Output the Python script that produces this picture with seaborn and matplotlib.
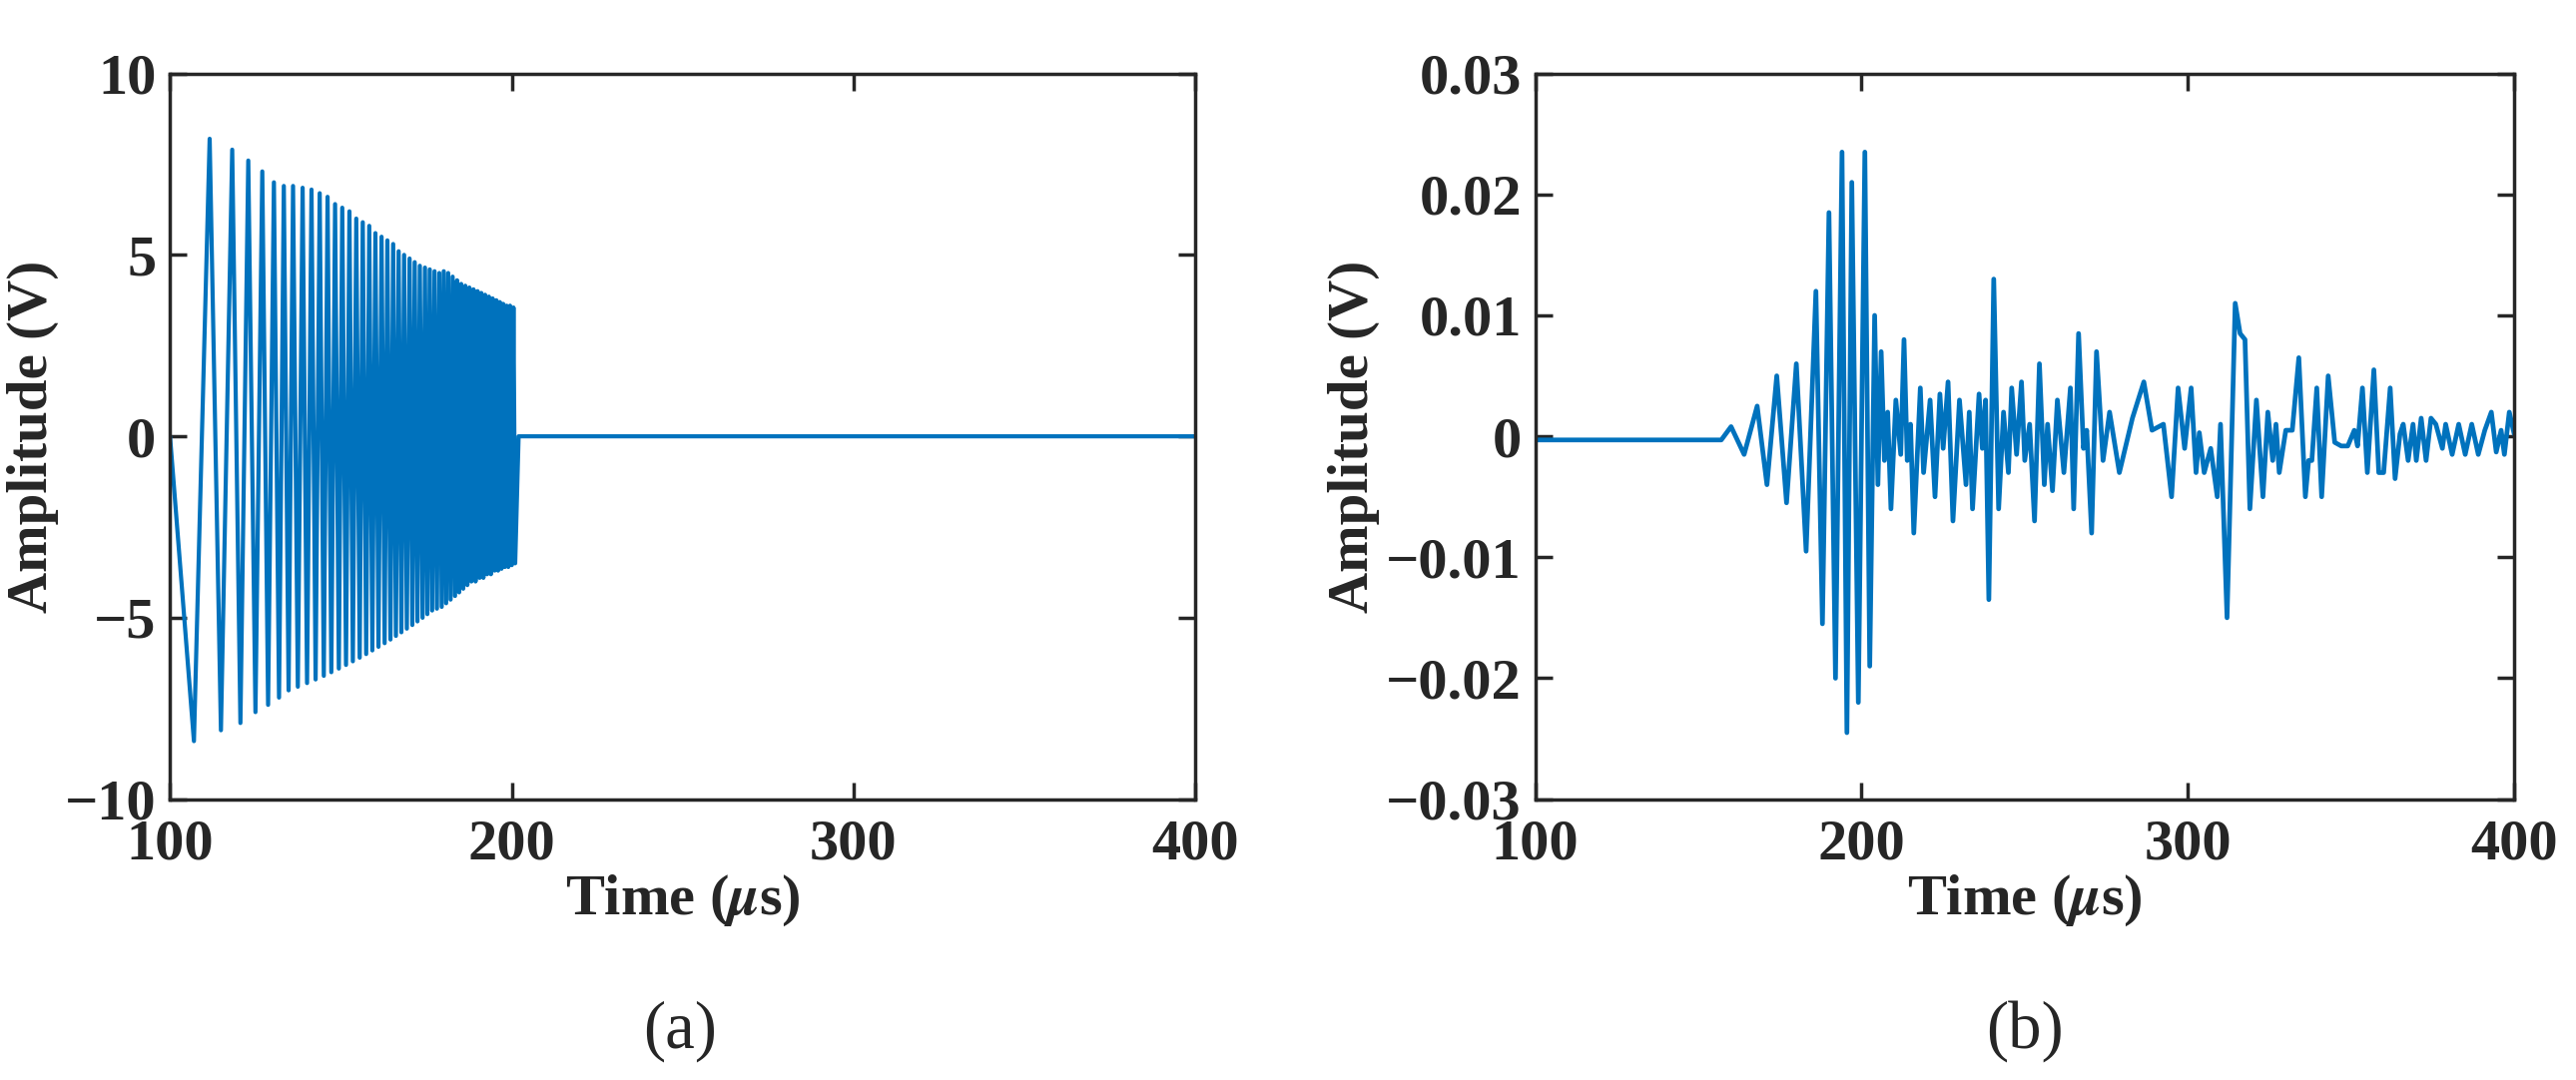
import matplotlib
matplotlib.use("Agg")
import matplotlib.pyplot as plt
import seaborn as sns
import numpy as np
import pandas as pd

# (a) excitation chirp: extrema (time us, amplitude V)
chirp_t = [100, 107.0, 111.6, 114.9, 118.2, 120.6, 122.9, 125.0, 127.0, 128.7, 130.4, 131.9,
           133.3, 134.7, 136.0, 137.4, 138.8, 140.1, 141.4, 142.6, 143.8, 145.0, 146.1, 147.2,
           148.3, 149.4, 150.4, 151.5, 152.5, 153.5, 154.5, 155.5, 156.4, 157.4, 158.3, 159.2,
           160.1, 161.0, 161.9, 162.8, 163.6, 164.5, 165.3, 166.1, 166.9, 167.7, 168.5, 169.3,
           170.1, 170.9, 171.6, 172.4, 173.1, 173.9, 174.6, 175.3, 176.0, 176.7, 177.4, 178.1,
           178.8, 179.5, 180.1, 180.8, 181.4, 182.1, 182.7, 183.4, 184.0, 184.6, 185.2, 185.8,
           186.4, 187.0, 187.6, 188.2, 188.8, 189.4, 190.0, 190.6, 191.1, 191.7, 192.2, 192.8,
           193.3, 193.9, 194.4, 195.0, 195.5, 196.0, 196.5, 197.0, 197.5, 198.0, 198.5, 199.0,
           199.5, 200.0, 200.5, 201.0, 202.0, 400]
chirp_v = [0, -8.4, 8.2, -8.1, 7.9, -7.9, 7.6, -7.6, 7.3, -7.4, 7.0, -7.2,
           6.9, -7.0, 6.9, -6.9, 6.85, -6.8, 6.8, -6.7, 6.7, -6.6, 6.6, -6.5,
           6.4, -6.4, 6.3, -6.3, 6.2, -6.2, 6.0, -6.1, 5.9, -6.0, 5.8, -5.9,
           5.6, -5.8, 5.5, -5.7, 5.4, -5.6, 5.3, -5.5, 5.1, -5.4, 5.0, -5.3,
           4.9, -5.2, 4.8, -5.1, 4.7, -5.0, 4.65, -4.9, 4.6, -4.8, 4.55, -4.75,
           4.5, -4.7, 4.55, -4.6, 4.5, -4.5, 4.4, -4.4, 4.3, -4.3, 4.2, -4.2,
           4.15, -4.1, 4.1, -4.0, 4.05, -4.0, 4.0, -3.9, 3.95, -3.9, 3.9, -3.8,
           3.85, -3.8, 3.8, -3.7, 3.75, -3.7, 3.7, -3.65, 3.65, -3.6, 3.6, -3.6,
           3.6, -3.55, 3.55, -3.5, 0.0, 0.0]

# (b) received signal: extrema (time us, amplitude V)
recv_t = [100, 157, 160, 164, 168, 171, 174, 177, 180, 183, 186, 188, 190, 192, 194, 195.5,
          197, 199, 201, 202.5, 204, 205, 206, 207, 208, 209, 210.5, 212, 213, 214, 215, 216,
          218, 219, 221, 222.5, 224, 225, 226.5, 228, 230, 232, 233, 234, 236, 237, 238, 239,
          240.5, 242, 243.5, 245, 246, 247.5, 249, 250, 251.5, 253, 254.5, 256, 257, 258.5,
          260, 262, 264, 265, 266.5, 268, 269, 270.5, 272, 274, 276, 279, 283, 286.5, 289,
          292.5, 295, 297, 299, 301, 302.5, 303.5, 305, 307, 309, 310, 312, 314.5, 316, 317.5,
          319, 321, 323, 324.5, 326, 327, 328, 330, 332, 334, 336, 337, 338, 339.5, 341, 343,
          345, 347, 349, 351, 352, 353.5, 355, 357, 358.5, 360, 362, 363.5, 365, 366, 367.5,
          369, 370, 371.5, 373, 374.5, 376, 378, 379, 381, 383, 385, 387, 389, 391, 393,
          394.5, 396, 397, 398.5, 400]
recv_v = [-0.0003, -0.0003, 0.0008, -0.0015, 0.0025, -0.004, 0.005, -0.0055, 0.006, -0.0095,
          0.012, -0.0155, 0.0185, -0.02, 0.0235, -0.0245, 0.021, -0.022, 0.0235, -0.019, 0.010,
          -0.004, 0.007, -0.002, 0.002, -0.006, 0.003, -0.0015, 0.008, -0.002, 0.001, -0.008,
          0.004, -0.003, 0.003, -0.005, 0.0035, -0.001, 0.0045, -0.007, 0.003, -0.004, 0.002,
          -0.006, 0.0035, -0.001, 0.003, -0.0135, 0.013, -0.006, 0.002, -0.003, 0.004, -0.0015,
          0.0045, -0.002, 0.001, -0.007, 0.006, -0.004, 0.001, -0.0045, 0.003, -0.003, 0.004,
          -0.006, 0.0085, -0.001, 0.0005, -0.008, 0.007, -0.002, 0.002, -0.003, 0.0015, 0.0045,
          0.0005, 0.001, -0.005, 0.004, -0.001, 0.004, -0.003, 0.0003, -0.003, -0.001, -0.005,
          0.001, -0.015, 0.011, 0.0085, 0.008, -0.006, 0.003, -0.005, 0.002, -0.002, 0.001,
          -0.003, 0.0005, 0.0005, 0.0065, -0.005, -0.002, -0.002, 0.004, -0.005, 0.005, -0.0005,
          -0.0008, -0.0008, 0.0005, -0.0008, 0.004, -0.003, 0.0055, -0.003, -0.003, 0.004,
          -0.0035, 0.0002, 0.001, -0.002, 0.001, -0.002, 0.0015, -0.002, 0.0015, 0.001, -0.001,
          0.001, -0.0015, 0.001, -0.0015, 0.001, -0.0015, 0.0005, 0.002, -0.0013, 0.0005,
          -0.0015, 0.002, 0.0002]

sns.set_style("ticks")
plt.rcParams['font.family'] = ['Liberation Serif', 'DejaVu Serif']
plt.rcParams['mathtext.fontset'] = 'stix'
plt.rcParams['font.weight'] = 'bold'

blue = "#0072BD"
fig = plt.figure(figsize=(25.8, 10.82), dpi=100)
ax1 = fig.add_axes([0.066, 0.26, 0.398, 0.672])
ax2 = fig.add_axes([0.596, 0.26, 0.380, 0.672])

df_a = pd.DataFrame({"t": chirp_t, "v": chirp_v})
df_b = pd.DataFrame({"t": recv_t, "v": recv_v})
sns.lineplot(data=df_a, x="t", y="v", ax=ax1, color=blue, lw=3.0, sort=False)
sns.lineplot(data=df_b, x="t", y="v", ax=ax2, color=blue, lw=3.4, sort=False)

ax1.set_ylim(-10, 10)
ax1.set_yticks([-10, -5, 0, 5, 10])
ax1.set_yticklabels(["\u221210", "\u22125", "0", "5", "10"])
ax2.set_ylim(-0.03, 0.03)
yt = [-0.03, -0.02, -0.01, 0, 0.01, 0.02, 0.03]
ax2.set_yticks(yt)
ax2.set_yticklabels(["\u22120.03", "\u22120.02", "\u22120.01", "0", "0.01", "0.02", "0.03"])

for ax in (ax1, ax2):
    ax.set_xlim(100, 400)
    ax.set_xticks([100, 200, 300, 400])
    ax.tick_params(direction="in", length=12, width=2.5, labelsize=42, top=True, right=True)
    ax.tick_params(axis="y", pad=10)
    ax.tick_params(axis="x", pad=14)
    for s in ax.spines.values():
        s.set_linewidth(2.5)
        s.set_color("#262626")
    for tl in ax.get_xticklabels() + ax.get_yticklabels():
        tl.set_fontweight("bold")
    ax.set_xlabel(r"Time ($\mu$s)", fontsize=42, fontweight="bold", labelpad=2)
    ax.set_ylabel("Amplitude (V)", fontsize=41, fontweight="bold", labelpad=4)

fig.text(0.264, 0.045, "(a)", ha="center", va="center", fontsize=48, fontweight="normal")
fig.text(0.786, 0.045, "(b)", ha="center", va="center", fontsize=48, fontweight="normal")

fig.savefig("out.png", dpi=100)
